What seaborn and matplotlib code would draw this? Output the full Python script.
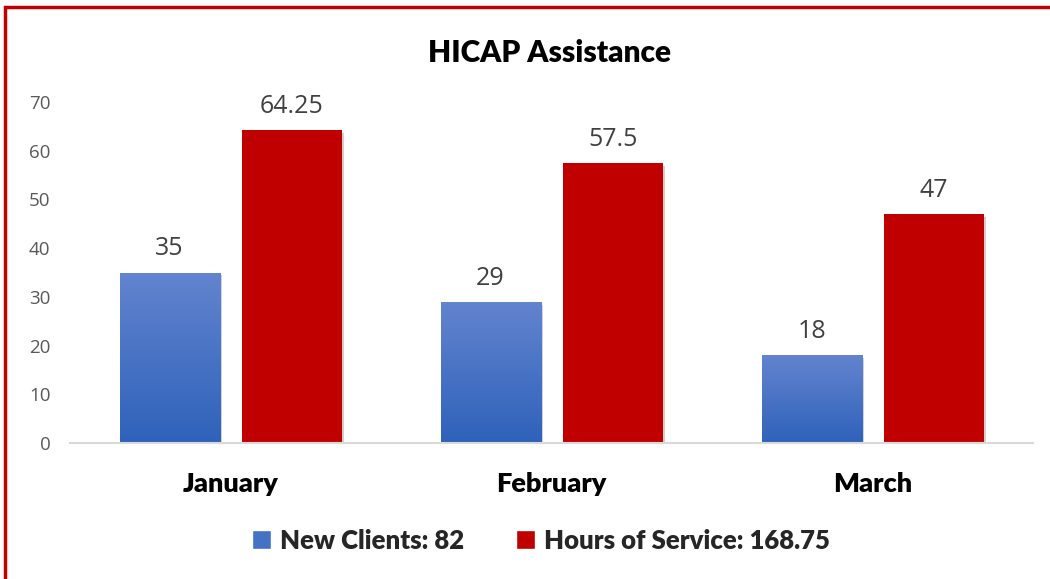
import numpy as np
import pandas as pd
import matplotlib
matplotlib.use("Agg")
import matplotlib.pyplot as plt
import matplotlib.patheffects as pe
from matplotlib.patches import Patch, Rectangle
import seaborn as sns

# data
months = ["January", "February", "March"]
new_clients = [35, 29, 18]
hours_of_service = [64.25, 57.5, 47]
series_names = ["New Clients: 82", "Hours of Service: 168.75"]
y_ticks = [0, 10, 20, 30, 40, 50, 60, 70]

BLUE_TOP = "#6384CF"
BLUE_BOTTOM = "#2E62BA"
BLUE = "#4472C4"
RED = "#C00000"
BOLD_FONT = ["Lato", "DejaVu Sans"]

df = pd.DataFrame({
    "month": months * 2,
    "series": [series_names[0]] * 3 + [series_names[1]] * 3,
    "value": new_clients + hours_of_service,
})

sns.set_style("white")
plt.rcParams["font.family"] = ["Open Sans", "DejaVu Sans"]

fig = plt.figure(figsize=(10.5, 5.79), dpi=100)
ax = fig.add_axes([0.0667, 0.2349, 0.9173, 0.5889])

sns.barplot(data=df, x="month", y="value", hue="series",
            palette=[BLUE, RED], width=0.76, gap=0.18,
            ax=ax, legend=False, saturation=1)

# soft drop shadow on bars
for bar in ax.patches:
    bar.set_path_effects([pe.SimplePatchShadow(offset=(2, -2), alpha=0.2), pe.Normal()])
    bar.set_edgecolor("none")

# gradient fill for the blue bars
grad = np.linspace(0, 1, 256).reshape(-1, 1)
cmap = matplotlib.colors.LinearSegmentedColormap.from_list("b", [BLUE_BOTTOM, BLUE_TOP])
for bar in ax.containers[0]:
    x0, y0 = bar.get_x(), bar.get_y()
    w, h = bar.get_width(), bar.get_height()
    im = ax.imshow(grad, extent=[x0, x0 + w, y0, y0 + h], origin="lower",
                   aspect="auto", cmap=cmap, zorder=bar.get_zorder() + 0.1)
    im.set_clip_path(bar)

for cont in ax.containers:
    ax.bar_label(cont, labels=[f"{v:g}" for v in cont.datavalues],
                 padding=8, fontsize=18, color="#404040")

ax.set_xlim(-0.5, 2.5)
ax.set_ylim(0, 70)
ax.set_yticks(y_ticks)
ax.tick_params(axis="y", labelsize=13.5, labelcolor="#595959", length=0, pad=14)
ax.tick_params(axis="x", length=0, pad=21)
for lab in ax.get_xticklabels():
    lab.set_fontfamily(BOLD_FONT)
    lab.set_fontweight("heavy")
    lab.set_fontsize(19.5)
    lab.set_color("black")
ax.set_xlabel("")
ax.set_ylabel("")
for side in ["top", "right", "left"]:
    ax.spines[side].set_visible(False)
ax.spines["bottom"].set_color("#D9D9D9")
ax.spines["bottom"].set_linewidth(1.5)

fig.text(0.523, 0.908, "HICAP Assistance", ha="center", va="center",
         fontsize=21.5, fontweight="heavy", family=BOLD_FONT, color="black")

handles = [Patch(facecolor=BLUE), Patch(facecolor=RED)]
fig.legend(handles, series_names, loc="center", bbox_to_anchor=(0.515, 0.066),
           ncol=2, frameon=False, handlelength=0.75, handleheight=0.75,
           handletextpad=0.35, columnspacing=2.0,
           prop={"family": BOLD_FONT, "weight": "heavy", "size": 18.5})

# red frame along the top and left edges
fig.patches.append(Rectangle((0.005, -0.1), 1.2, 1.088, transform=fig.transFigure,
                             fill=False, edgecolor=RED, linewidth=2.5))

fig.savefig("out.png", dpi=100, facecolor="white")
